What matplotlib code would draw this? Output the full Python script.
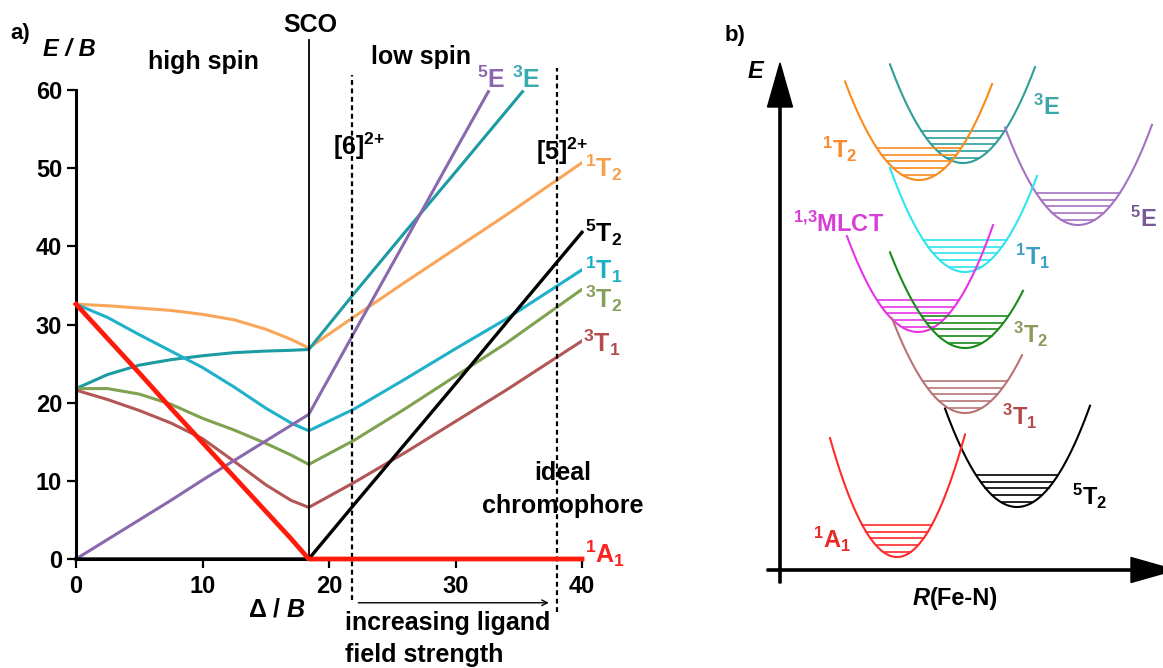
import matplotlib.pyplot as plt
import numpy as np

plt.rcParams['font.family'] = ['Liberation Sans', 'DejaVu Sans']
plt.rcParams['font.weight'] = 'bold'
plt.rcParams['mathtext.fontset'] = 'custom'
plt.rcParams['mathtext.rm'] = 'Liberation Sans:bold'
plt.rcParams['mathtext.it'] = 'Liberation Sans:italic:bold'
plt.rcParams['mathtext.bf'] = 'Liberation Sans:bold'

# ---- panel a: d6 Tanabe-Sugano diagram
sco = 18.4
delta_hs = [0, 2.5, 5, 7.5, 10, 12.5, 15, 17, 18.4]
delta_ls = [18.4, 22, 26, 30, 34, 40]
delta_ls_3E = [18.4, 22, 26, 30, 35.3]
delta_ls_5E = [18.4, 22, 26, 30, 32.6]

e_1T2_hs = [32.6, 32.4, 32.1, 31.8, 31.3, 30.6, 29.4, 28.1, 27.0]
e_1T2_ls = [27.0, 31.0, 35.4, 39.7, 44.0, 50.7]
e_3E_hs = [21.8, 23.6, 24.8, 25.5, 26.0, 26.4, 26.6, 26.7, 26.8]
e_3E_ls = [26.8, 34.0, 41.8, 49.5, 59.8]
e_1T1_hs = [32.6, 30.9, 28.7, 26.6, 24.5, 22.0, 19.3, 17.4, 16.4]
e_1T1_ls = [16.4, 19.2, 23.0, 26.9, 30.7, 37.0]
e_3T2_hs = [21.8, 21.8, 21.1, 19.8, 18.0, 16.5, 14.8, 13.3, 12.1]
e_3T2_ls = [12.1, 15.2, 19.2, 23.4, 27.6, 34.5]
e_3T1_hs = [21.6, 20.4, 19.0, 17.4, 15.4, 12.5, 9.5, 7.5, 6.6]
e_3T1_ls = [6.6, 9.8, 13.6, 17.6, 21.6, 27.9]
e_5E_hs = [0, 2.5, 5.0, 7.5, 10.1, 12.6, 15.1, 17.1, 18.5]
e_5E_ls = [18.5, 29.0, 40.6, 52.3, 59.8]
e_1A1_hs = [32.6, 28.2, 23.8, 19.3, 14.9, 10.5, 6.1, 2.6, 0.0]
e_1A1_ls = [0, 0, 0, 0, 0, 0]
e_5T2_hs = [0, 0, 0, 0, 0, 0, 0, 0, 0]
e_5T2_ls = [0, 7.0, 14.7, 22.4, 30.2, 41.8]

marker_lines = [21.8, 38.0]   # [6]2+ and [5]2+

# ---- panel b: potential wells (vertex R, vertex E, curvature, arm ends)
well_names = ['$^{3}$E', '$^{1}$T$_{2}$', '$^{5}$E', '$^{1}$T$_{1}$', '$^{1{,}3}$MLCT',
              '$^{3}$T$_{2}$', '$^{3}$T$_{1}$', '$^{5}$T$_{2}$', '$^{1}$A$_{1}$']
well_r0 = [18.3, 13.9, 29.8, 18.5, 13.8, 18.5, 18.5, 23.7, 11.7]
well_e0 = [40.7, 39.0, 34.5, 29.8, 23.8, 22.2, 15.7, 6.3, 1.3]
well_k = [0.185, 0.18, 0.183, 0.185, 0.19, 0.17, 0.178, 0.19, 0.265]
well_left = [11.0, 6.5, 22.5, 11.0, 6.7, 11.0, 11.2, 16.5, 5.0]
well_right = [25.5, 21.2, 37.2, 25.7, 21.3, 24.3, 24.2, 31.0, 18.5]
vib_levels = [0.5, 1.2, 1.9, 2.5, 3.2]

well_colors = ['#2e9e9a', '#fb8a1c', '#a472c2', '#2ee4ee', '#e634e6',
               '#1a8a1a', '#b87474', 'black', '#ff2a2a']
label_colors = ['#3ba6aa', '#fb8a2c', '#7a5a96', '#3a9fc2', '#d63ed6',
                '#8b9a5b', '#b04a4a', 'black', '#e82a2a']
label_pos = [(25.3, 45.5), (4.2, 41.2), (35.0, 34.3), (23.5, 30.5), (1.3, 33.8),
             (23.3, 22.7), (22.2, 14.5), (29.2, 6.5), (3.3, 2.2)]

W, H = 1163, 668
fig = plt.figure(figsize=(W / 100, H / 100), dpi=100)

# ---------------- panel a
ax = fig.add_axes([76 / W, (H - 559) / H, 506 / W, 469 / H])
ax.set_xlim(0, 40)
ax.set_ylim(0, 60)

a_colors = {'1T2': '#f9a65a', '3E': '#1c9ba3', '1T1': '#1fb1c9', '3T2': '#80a14f',
            '3T1': '#b25656', '5E': '#8b68ad'}
ax.plot(delta_hs + delta_ls[1:], e_1T2_hs + e_1T2_ls[1:], color=a_colors['1T2'], lw=2.2)
ax.plot(delta_hs + delta_ls_3E[1:], e_3E_hs + e_3E_ls[1:], color=a_colors['3E'], lw=2.2)
ax.plot(delta_hs + delta_ls[1:], e_1T1_hs + e_1T1_ls[1:], color=a_colors['1T1'], lw=2.2)
ax.plot(delta_hs + delta_ls[1:], e_3T2_hs + e_3T2_ls[1:], color=a_colors['3T2'], lw=2.2)
ax.plot(delta_hs + delta_ls[1:], e_3T1_hs + e_3T1_ls[1:], color=a_colors['3T1'], lw=2.2)
ax.plot(delta_hs + delta_ls_5E[1:], e_5E_hs + e_5E_ls[1:], color=a_colors['5E'], lw=2.2)
ax.plot(delta_hs + delta_ls[1:], e_5T2_hs + e_5T2_ls[1:], color='black', lw=2.4,
        clip_on=False, zorder=4)
ax.plot(delta_hs + delta_ls[1:], e_1A1_hs + e_1A1_ls[1:], color='#ff1a0a', lw=3.4,
        clip_on=False, zorder=5)

ax.plot([sco, sco], [0, 66.4], color='black', lw=1.3, clip_on=False)
ax.plot([marker_lines[0]] * 2, [-5.3, 61.9], color='black', lw=1.6,
        ls=(0, (2.2, 1.6)), clip_on=False)
ax.plot([marker_lines[1]] * 2, [-6.8, 62.8], color='black', lw=1.6,
        ls=(0, (2.2, 1.6)), clip_on=False)

for side in ['top', 'right']:
    ax.spines[side].set_visible(False)
for side in ['left', 'bottom']:
    ax.spines[side].set_linewidth(2.2)
ax.set_xticks([0, 10, 20, 30, 40])
ax.set_yticks([0, 10, 20, 30, 40, 50, 60])
ax.tick_params(axis='both', direction='out', length=6.5, width=1.6, labelsize=17)
ax.tick_params(axis='y', pad=3.5)
ax.tick_params(axis='x', pad=5)

fs = 18
kw = dict(clip_on=False, fontsize=fs)
ax.text(10.1, 63.6, 'high spin', ha='center', va='center', **kw)
ax.text(18.5, 68.3, 'SCO', ha='center', va='center', **kw)
ax.text(27.3, 64.2, 'low spin', ha='center', va='center', **kw)
ax.text(31.7, 60.3, '$^{5}$E', color='#8a66ae', ha='left', va='baseline', **kw)
ax.text(34.5, 60.3, '$^{3}$E', color='#3aa9b0', ha='left', va='baseline', **kw)
ax.text(20.3, 51.7, '[6]$^{2{+}}$', ha='left', va='baseline', **kw)
ax.text(36.4, 51.0, '[5]$^{2{+}}$', ha='left', va='baseline', **kw)
ax.text(40.2, 48.9, '$^{1}$T$_{2}$', color='#f6a04d', ha='left', va='baseline', **kw)
ax.text(40.2, 40.6, '$^{5}$T$_{2}$', color='black', ha='left', va='baseline', **kw)
ax.text(40.2, 35.9, '$^{1}$T$_{1}$', color='#1ab0c8', ha='left', va='baseline', **kw)
ax.text(40.2, 32.1, '$^{3}$T$_{2}$', color='#86a05a', ha='left', va='baseline', **kw)
ax.text(40.1, 26.5, '$^{3}$T$_{1}$', color='#b34d4d', ha='left', va='baseline', **kw)
ax.text(40.2, -0.5, '$^{1}$A$_{1}$', color='#ff2020', ha='left', va='baseline', **kw)
ax.text(38.5, 5.9, 'ideal\nchromophore', ha='center', va='baseline',
        multialignment='center', linespacing=1.45, **kw)
ax.text(13.6, -7.4, 'Δ / $B$', ha='left', va='baseline', **kw)
ax.text(21.3, -13.2, 'increasing ligand\nfield strength', ha='left', va='baseline',
        linespacing=1.45, **kw)
ax.annotate('', xy=(37.6, -5.6), xytext=(22.1, -5.6), annotation_clip=False,
            arrowprops=dict(arrowstyle='->', lw=1.0, color='black'))

fig.text(10 / W, 1 - 33 / H, 'a)', fontsize=16, ha='left', va='center')
fig.text(43 / W, 1 - 50 / H, 'E / B', fontsize=17, style='italic', ha='left', va='center')

# ---------------- panel b
bx = fig.add_axes([740 / W, 0, 423 / W, 1])
bx.set_xlim(-4, 38.3)
bx.set_ylim(-9.8, 57.0)
bx.axis('off')

for i in range(len(well_names)):
    r = np.linspace(well_left[i], well_right[i], 120)
    bx.plot(r, well_e0[i] + well_k[i] * (r - well_r0[i]) ** 2, color=well_colors[i], lw=1.5)
    for v in vib_levels:
        half = np.sqrt(v / well_k[i])
        bx.plot([well_r0[i] - half, well_r0[i] + half], [well_e0[i] + v] * 2,
                color=well_colors[i], lw=1.2)
    bx.text(label_pos[i][0], label_pos[i][1], well_names[i], color=label_colors[i],
            fontsize=17, ha='left', va='baseline')

bx.arrow(0, -1.3, 0, 52.0, width=0.22, head_width=2.5, head_length=4.4,
         length_includes_head=True, color='black', clip_on=False)
bx.arrow(-1.3, 0, 40.8, 0, width=0.22, head_width=2.5, head_length=4.4,
         length_includes_head=True, color='black', clip_on=False)
bx.text(-3.2, 49.8, 'E', fontsize=17, style='italic', ha='left', va='center')
bx.text(15.0, -3.5, 'R', fontsize=17, style='italic', ha='right', va='baseline')
bx.text(15.0, -3.5, '(Fe-N)', fontsize=17, ha='left', va='baseline')

fig.text(725 / W, 1 - 35 / H, 'b)', fontsize=16, ha='left', va='center')

fig.savefig('out.png', dpi=100)
